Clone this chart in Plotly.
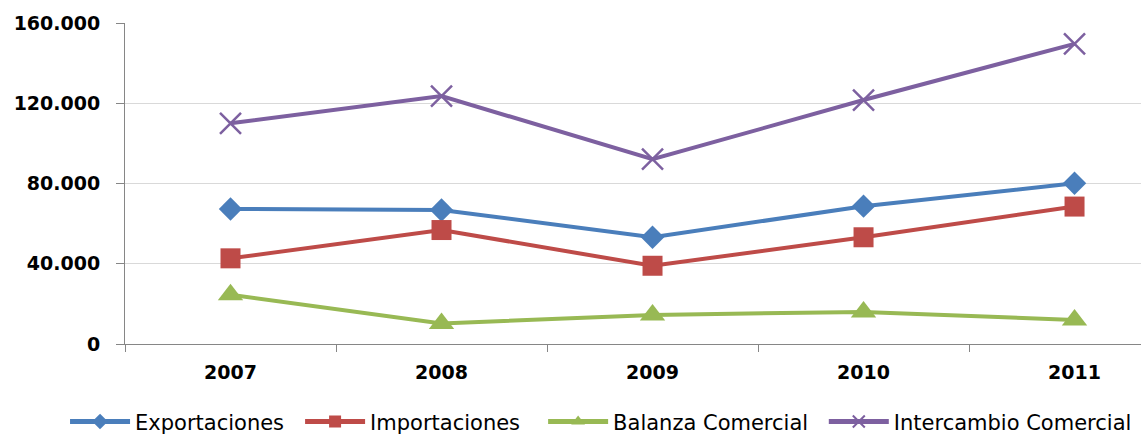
import plotly.graph_objects as go

years = ["2007", "2008", "2009", "2010", "2011"]
exportaciones = [67300, 66800, 53200, 68700, 80100]
importaciones = [42700, 56800, 39000, 53200, 68500]
balanza = [24500, 10200, 14500, 16000, 12000]
intercambio = [110000, 123600, 92100, 121600, 149600]

y_ticks = [0, 40000, 80000, 120000, 160000]

# name, values, colour, marker symbol, marker size, legend id, legend x (container fraction)
series = [
    ("Exportaciones", exportaciones, "#4A7EBB", "diamond", 18, "legend", 0.057),
    ("Importaciones", importaciones, "#BE4B48", "square", 20, "legend2", 0.263),
    ("Balanza Comercial", balanza, "#98B954", "triangle-up", 22, "legend3", 0.476),
    ("Intercambio Comercial", intercambio, "#7D60A0", "x-thin-open", 21, "legend4", 0.722),
]

legend_font = dict(family="DejaVu Sans", size=21, color="#000000")

fig = go.Figure()
legends = {}
for name, vals, color, symbol, size, leg, lx in series:
    marker = dict(symbol=symbol, size=size, color=color)
    if symbol.startswith("x-thin"):
        marker["line"] = dict(color=color, width=2.5)
    fig.add_trace(go.Scatter(
        x=years, y=vals, name=name, mode="lines+markers",
        line=dict(color=color, width=4),
        marker=marker, legend=leg,
    ))
    legends[leg] = dict(
        orientation="h", xref="container", x=lx, xanchor="left",
        yref="container", y=0.028, yanchor="middle",
        font=legend_font, itemwidth=60, itemsizing="constant",
        bgcolor="rgba(0,0,0,0)",
    )

fig.update_layout(
    width=1141, height=434,
    margin=dict(l=125, r=0, t=23, b=90),
    paper_bgcolor="white", plot_bgcolor="white",
    separators=",.",
    showlegend=True,
    **legends,
)

fig.update_xaxes(
    type="category", range=[-0.5, 4.315],
    showline=True, linecolor="#868686", linewidth=1,
    ticks="outside", tickson="boundaries", ticklen=7, tickcolor="#868686",
    showgrid=False, ticklabelstandoff=11,
    tickfont=dict(family="DejaVu Sans", size=19, color="#000000", weight="bold"),
)
fig.update_yaxes(
    range=[0, 160000], tickvals=y_ticks, tickformat=",d",
    showline=True, linecolor="#868686", linewidth=1,
    ticks="outside", ticklen=8, tickcolor="#868686",
    showgrid=True, gridcolor="#D9D9D9", gridwidth=1,
    zeroline=False, ticklabelstandoff=12,
    tickfont=dict(family="DejaVu Sans", size=19, color="#000000", weight="bold"),
)

fig.write_html("out.html")
